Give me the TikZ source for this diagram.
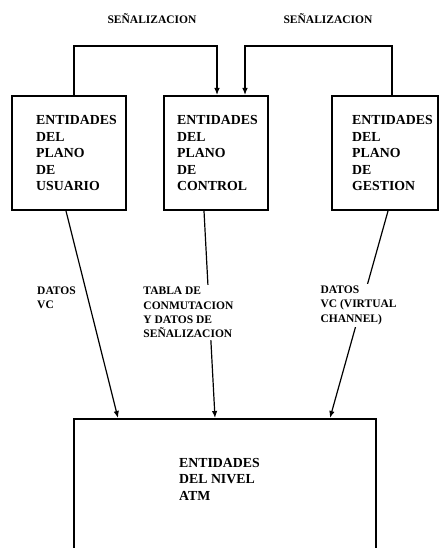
\documentclass[tikz,border=0pt]{standalone}
\usepackage{fontspec}
\setmainfont{Liberation Serif}
\usetikzlibrary{arrows.meta}
\tikzset{>=latex}
\tikzset{
  entityBox/.style={
    draw,
    line width=2pt,
    inner sep=0pt
  },
  entityText/.style={
    font=\bfseries\fontsize{13.8}{16.5}\selectfont,
    align=left,
    inner sep=0pt
  },
  flowLabel/.style={
    font=\bfseries\fontsize{11.5}{14.3}\selectfont,
    align=left,
    inner sep=2pt
  },
  flowLine/.style={
    ->,
    line width=1.2pt
  }
}

\begin{document}
\begin{tikzpicture}[x=1pt, y=-1pt, >={Latex[length=7pt,width=5.5pt]}]
\def\boxH{114pt}  % height of the plane boxes
\def\up{49}       % rise of the signalling lines

\useasboundingbox (0,0) rectangle (441,548);
\clip (0,0) rectangle (441,548);

% Planes
\node[entityBox, minimum width=114pt, minimum height=\boxH] (usuario) at (69,153) {};
\node[entityBox, minimum width=104pt, minimum height=\boxH] (control) at (216,153) {};
\node[entityBox, minimum width=106pt, minimum height=\boxH] (gestion) at (385,153) {};

\node[entityText, anchor=west] (usuarioText) at ([xshift=25pt]usuario.west)
  {ENTIDADES\\DEL\\PLANO\\DE\\USUARIO};
\node[entityText, anchor=west] (controlText) at ([xshift=14pt]control.west)
  {ENTIDADES\\DEL\\PLANO\\DE\\CONTROL};
\node[entityText, anchor=west] (gestionText) at ([xshift=21pt]gestion.west)
  {ENTIDADES\\DEL\\PLANO\\DE\\GESTION};

% ATM level (runs off the bottom)
\node[entityBox, minimum width=302pt, minimum height=150pt] (atm) at (225,494) {};
\node[entityText, anchor=west] (atmText) at ([xshift=106pt, yshift=-61pt]atm.north west)
  {ENTIDADES\\DEL NIVEL\\ATM};

% Signalling
\node[flowLabel] (senalA) at (152,19) {SEÑALIZACION};
\node[flowLabel] (senalB) at (328,19) {SEÑALIZACION};
\draw[flowLine] ([xshift=5pt]usuario.north) -- ++(0,-\up) -| ([xshift=1pt]control.north);
\draw[flowLine] ([xshift=7pt]gestion.north) -- ++(0,-\up) -| ([xshift=29pt]control.north);

% Data towards the ATM level
\node[flowLabel, anchor=west, inner sep=0pt] (datosU) at (37,298) {DATOS\\VC};
\draw[flowLine] ([xshift=-3pt]usuario.south) -- ([xshift=45pt]atm.north west);
\draw[flowLine] ([xshift=-12pt]control.south) --
  node[flowLabel, pos=0.49, xshift=-21pt, fill=white] (tabla)
  {TABLA DE\\CONMUTACION\\Y DATOS DE\\SEÑALIZACION}
  ([xshift=142pt]atm.north west);
\draw[flowLine] ([xshift=3pt]gestion.south) --
  node[flowLabel, pos=0.455, xshift=-3pt, fill=white] (datosG)
  {DATOS\\VC (VIRTUAL\\CHANNEL)}
  ([xshift=257pt]atm.north west);

\end{tikzpicture}
\end{document}
